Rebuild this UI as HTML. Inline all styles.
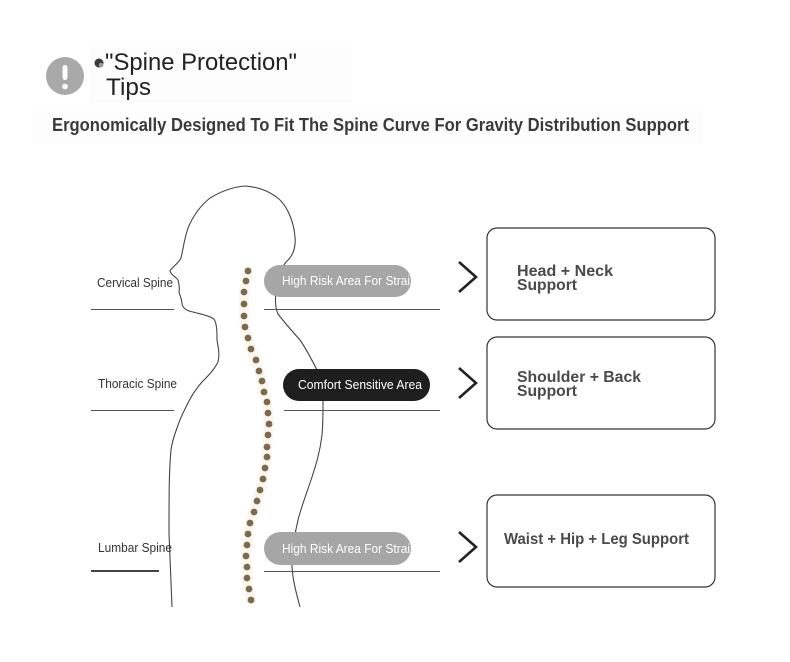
<!DOCTYPE html>
<html>
<head>
<meta charset="utf-8">
<style>
  html,body{margin:0;padding:0;background:#fff;}
  svg{display:block;}
  text{font-family:"Liberation Sans", Arial, sans-serif;}
</style>
</head>
<body>
<svg width="790" height="662" viewBox="0 0 790 662" xmlns="http://www.w3.org/2000/svg">
  <rect x="0" y="0" width="790" height="662" fill="#ffffff"/>

  <!-- faint header backgrounds -->
  <rect x="90" y="47" width="262" height="56" fill="#fcfcfc"/>
  <rect x="32" y="110" width="670" height="34" fill="#fdfdfd"/>

  <!-- header icon -->
  <circle cx="65" cy="76" r="19" fill="#a9a9a9"/>
  <rect x="62.5" y="65" width="5" height="15" rx="2.5" fill="#ffffff"/>
  <circle cx="65" cy="86.5" r="2.8" fill="#ffffff"/>

  <!-- small icon before title -->
  <circle cx="99" cy="63" r="4.5" fill="#3a3a3a"/>
  <circle cx="101" cy="65" r="2.3" fill="#9a9a9a"/>

  <!-- title -->
  <text x="105" y="70" font-size="24" fill="#222" textLength="192" lengthAdjust="spacingAndGlyphs">"Spine Protection"</text>
  <text x="106" y="95" font-size="24" fill="#222" textLength="45" lengthAdjust="spacingAndGlyphs">Tips</text>

  <!-- subtitle -->
  <text x="52" y="131" font-size="18" font-weight="bold" fill="#3a3a3a" textLength="637" lengthAdjust="spacingAndGlyphs">Ergonomically Designed To Fit The Spine Curve For Gravity Distribution Support</text>

  <!-- body outline front -->
  <path d="M245,186 C232,187 220,192 210,198 C200,206 193,216 188,228 C184,240 183,250 181,258 C178,264 172,267 170,271 C171,275 176,277 178,280 C179,284 180,288 179,292 C180,296 182,299 182,304 C183,308 187,311 193,312 C200,314 208,315 214,319 C217,324 217,332 217,340 C218,347 220,353 218,362 C214,370 208,376 202,382 C196,389 192,395 189,401 C185,409 180,418 177,428 C174,436 172,442 171,450 C169,470 169,500 169,533 C170,560 171,585 172,607" fill="none" stroke="#444" stroke-width="1.1"/>
  <!-- body outline back -->
  <path d="M245,186 C258,187 270,191 280,200 C289,209 294,224 295,237 C296,248 293,256 286,262 C280,270 277,280 276,290 C275,300 275,308 278,314 C284,322 292,331 300,340 C307,350 313,362 318,372 C322,382 323,392 323,402 C323,415 323,425 322,435 C320,452 316,465 311,480 C306,495 301,508 298,520 C295,533 293,545 292,557 C291,575 296,592 300,607" fill="none" stroke="#444" stroke-width="1.1"/>

  <!-- spine halo -->
  <polyline points="248,271 246,281 244,292 244,304 244,316 245,327 248,338 251,349 256,360 259,371 262,381 264,392 267,402 268,413 269,424 268,435 267,447 267,457 265,468 263,479 260,490 257,501 254,512 250,523 248,534 247,545 246,556 247,567 247,578 249,589 251,600" fill="none" stroke="#fbf7ee" stroke-width="10" stroke-linecap="round" stroke-linejoin="round"/>
  <!-- spine dots -->
  <g fill="#7b6a4f">
    <circle cx="248" cy="271" r="3.4"/><circle cx="246" cy="281" r="3.4"/><circle cx="244" cy="292" r="3.4"/>
    <circle cx="244" cy="304" r="3.4"/><circle cx="244" cy="316" r="3.4"/><circle cx="245" cy="327" r="3.4"/>
    <circle cx="248" cy="338" r="3.4"/><circle cx="251" cy="349" r="3.4"/><circle cx="256" cy="360" r="3.4"/>
    <circle cx="259" cy="371" r="3.4"/><circle cx="262" cy="381" r="3.4"/><circle cx="264" cy="392" r="3.4"/>
    <circle cx="267" cy="402" r="3.4"/><circle cx="268" cy="413" r="3.4"/><circle cx="269" cy="424" r="3.4"/>
    <circle cx="268" cy="435" r="3.4"/><circle cx="267" cy="447" r="3.4"/><circle cx="267" cy="457" r="3.4"/>
    <circle cx="265" cy="468" r="3.4"/><circle cx="263" cy="479" r="3.4"/><circle cx="260" cy="490" r="3.4"/>
    <circle cx="257" cy="501" r="3.4"/><circle cx="254" cy="512" r="3.4"/><circle cx="250" cy="523" r="3.4"/>
    <circle cx="248" cy="534" r="3.4"/><circle cx="247" cy="545" r="3.4"/><circle cx="246" cy="556" r="3.4"/>
    <circle cx="247" cy="567" r="3.4"/><circle cx="247" cy="578" r="3.4"/><circle cx="249" cy="589" r="3.4"/>
    <circle cx="251" cy="600" r="3.4"/>
  </g>

  <!-- horizontal divider lines -->
  <g stroke="#555" stroke-width="1">
    <line x1="91" y1="309.5" x2="174" y2="309.5"/>
    <line x1="264" y1="309.5" x2="440" y2="309.5"/>
    <line x1="91" y1="410.5" x2="174" y2="410.5"/>
    <line x1="284" y1="410.5" x2="440" y2="410.5"/>
    <line x1="264" y1="571.5" x2="440" y2="571.5"/>
  </g>
  <line x1="91" y1="571" x2="159" y2="571" stroke="#444" stroke-width="2"/>

  <!-- left labels -->
  <text x="97" y="287" font-size="12.5" fill="#333" textLength="76" lengthAdjust="spacingAndGlyphs">Cervical Spine</text>
  <text x="98" y="388" font-size="12.5" fill="#333" textLength="79" lengthAdjust="spacingAndGlyphs">Thoracic Spine</text>
  <text x="98" y="552" font-size="12.5" fill="#333" textLength="74" lengthAdjust="spacingAndGlyphs">Lumbar Spine</text>

  <!-- pills -->
  <rect x="264" y="265" width="147" height="32" rx="16" fill="#a6a6a6"/>
  <text x="282" y="285" font-size="12.5" fill="#ffffff" textLength="128" lengthAdjust="spacingAndGlyphs">High Risk Area For Strai</text>

  <rect x="283" y="369" width="147" height="32" rx="16" fill="#1e1e1e"/>
  <text x="298" y="389" font-size="12.5" fill="#ffffff" textLength="124" lengthAdjust="spacingAndGlyphs">Comfort Sensitive Area</text>

  <rect x="264" y="532" width="147" height="33" rx="16.5" fill="#a6a6a6"/>
  <text x="282" y="553" font-size="12.5" fill="#ffffff" textLength="128" lengthAdjust="spacingAndGlyphs">High Risk Area For Strai</text>

  <!-- chevrons -->
  <g fill="none" stroke="#222" stroke-width="2.6" stroke-linecap="butt" stroke-linejoin="miter">
    <polyline points="459,262 476,277 459,292"/>
    <polyline points="459,368 476,383 459,398"/>
    <polyline points="459,532 476,547 459,562"/>
  </g>

  <!-- boxes -->
  <g fill="#ffffff" stroke="#333" stroke-width="1.2">
    <rect x="487" y="228" width="228" height="92" rx="10"/>
    <rect x="487" y="337" width="228" height="92" rx="10"/>
    <rect x="487" y="495" width="228" height="92" rx="10"/>
  </g>
  <g font-size="16" font-weight="bold" fill="#4a4a4a">
    <text x="517" y="276" textLength="96" lengthAdjust="spacingAndGlyphs">Head + Neck</text>
    <text x="517" y="290" textLength="60" lengthAdjust="spacingAndGlyphs">Support</text>
    <text x="517" y="382" textLength="124" lengthAdjust="spacingAndGlyphs">Shoulder + Back</text>
    <text x="517" y="396" textLength="60" lengthAdjust="spacingAndGlyphs">Support</text>
    <text x="504" y="544" textLength="185" lengthAdjust="spacingAndGlyphs">Waist + Hip + Leg Support</text>
  </g>
</svg>
</body>
</html>
